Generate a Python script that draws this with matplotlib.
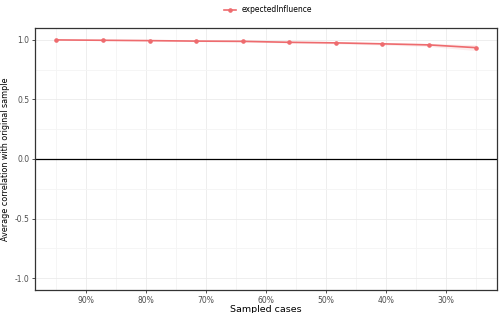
import matplotlib
matplotlib.use("Agg")
import matplotlib.pyplot as plt
import numpy as np

sampled = [95.0, 87.2, 79.4, 71.7, 63.9, 56.1, 48.3, 40.6, 32.8, 25.0]
corr = [1.000, 0.997, 0.994, 0.990, 0.988, 0.980, 0.975, 0.967, 0.958, 0.935]
lower = [0.999, 0.995, 0.991, 0.986, 0.983, 0.974, 0.967, 0.957, 0.945, 0.910]
upper = [1.000, 0.999, 0.997, 0.994, 0.993, 0.986, 0.983, 0.977, 0.971, 0.960]
series_name = "expectedInfluence"
xticks = [90, 80, 70, 60, 50, 40, 30]
xticklabels = ["90%", "80%", "70%", "60%", "50%", "40%", "30%"]
yticks = [-1.0, -0.5, 0.0, 0.5, 1.0]
yticklabels = ["-1.0", "-0.5", "0.0", "0.5", "1.0"]

color = "#EE6B6E"

fig = plt.figure(figsize=(5.01, 3.13), dpi=100)
ax = fig.add_axes([35/501, 23/313, 462/501, 262/313])

ax.fill_between(sampled, lower, upper, color=color, alpha=0.12, linewidth=0)
line, = ax.plot(sampled, corr, color=color, linewidth=1.2, marker='o', markersize=2.3,
                label=series_name, zorder=3)
ax.axhline(0, color="black", linewidth=0.9, zorder=2)

ax.set_xlim(98.5, 21.5)
ax.set_ylim(-1.1, 1.1)
ax.set_xticks(xticks)
ax.set_xticklabels(xticklabels)
ax.set_xticks([95, 85, 75, 65, 55, 45, 35, 25], minor=True)
ax.set_yticks(yticks)
ax.set_yticklabels(yticklabels)
ax.set_yticks([-0.75, -0.25, 0.25, 0.75], minor=True)

ax.grid(which='major', color="#EBEBEB", linewidth=0.6)
ax.grid(which='minor', color="#F4F4F4", linewidth=0.6)
ax.set_axisbelow(True)
ax.tick_params(which='major', labelsize=5.5, colors="#333333", labelcolor="#4D4D4D",
               length=2.5, width=0.6, pad=1.5)
ax.tick_params(which='minor', length=0)
for s in ax.spines.values():
    s.set_color("#333333")
    s.set_linewidth(0.9)

ax.set_xlabel("Sampled cases", fontsize=6.8, color="black", labelpad=0.5)
ax.set_ylabel("Average correlation with original sample", fontsize=5.8, color="black", labelpad=3)

fig.legend(handles=[line], labels=[series_name], loc='center', bbox_to_anchor=(0.535, 1-10/313),
           frameon=False, fontsize=5.5, handlelength=1.6, markerscale=1.0)

fig.savefig("out.png", dpi=100)
